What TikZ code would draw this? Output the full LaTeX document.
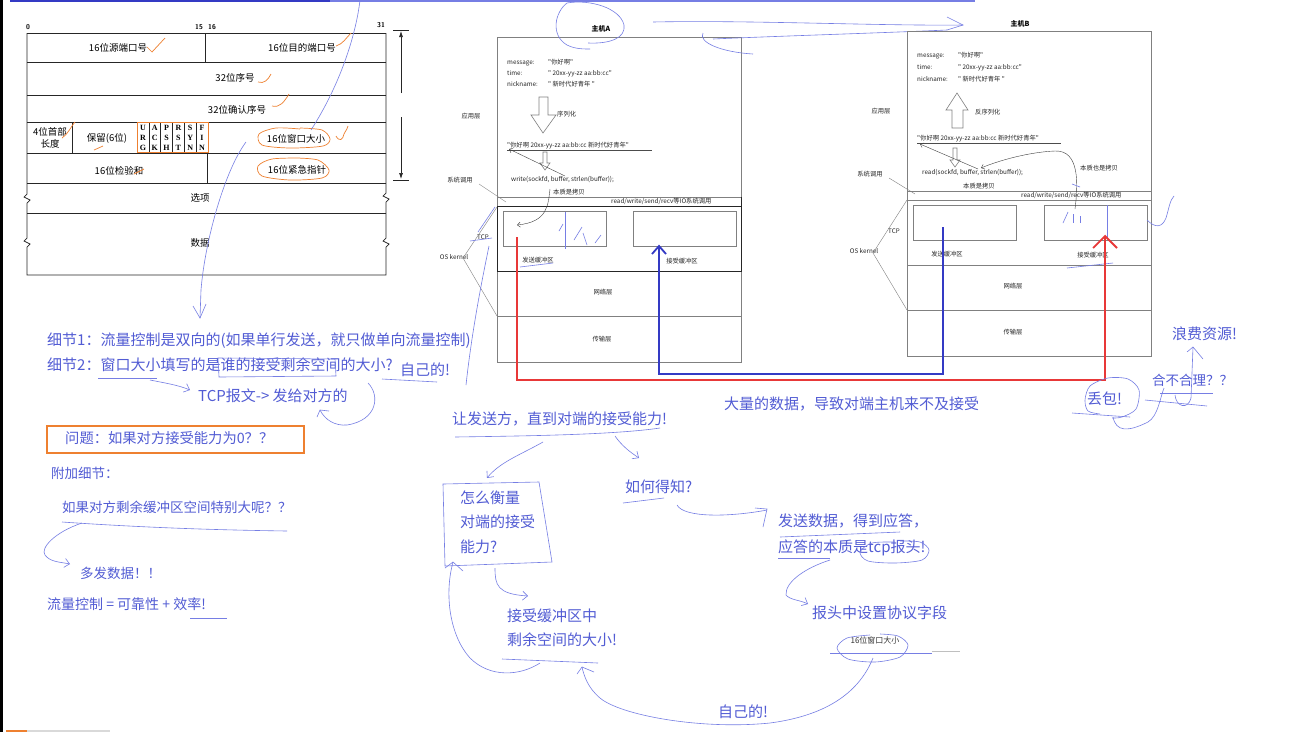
\documentclass[tikz,border=0pt]{standalone}
\usepackage{fontspec}
\setmainfont{Liberation Serif}
\newfontfamily\cjk{Noto Sans CJK SC}
\usetikzlibrary{arrows.meta,calc}
\definecolor{hand}{RGB}{82,92,212}
\definecolor{handl}{RGB}{118,126,228}
\definecolor{redl}{RGB}{232,56,56}
\definecolor{bluel}{RGB}{52,58,196}
\definecolor{orng}{RGB}{238,128,48}
\definecolor{gline}{RGB}{128,128,128}
\tikzset{
  hw/.style={font=\cjk\fontsize{15}{18}\selectfont, text=hand, inner sep=0pt, anchor=west, text height=12pt, text depth=2.5pt},
  hws/.style={font=\cjk\fontsize{13.5}{16}\selectfont, text=hand, inner sep=0pt, anchor=west, text height=11pt, text depth=2.2pt},
  hs/.style={draw=handl, line width=0.6pt},
  harrow/.style={hs, -{Straight Barb[length=5pt,width=9pt]}},
  sm/.style={font=\cjk\fontsize{6.3}{7.5}\selectfont, inner sep=0pt, text=black!85, text height=5pt, text depth=1.2pt},
  smw/.style={sm, anchor=west},
  hdr/.style={font=\cjk\fontsize{9.5}{12}\selectfont, inner sep=0pt, align=center},
  bitlab/.style={font=\sffamily\bfseries\fontsize{7}{8}\selectfont, inner sep=0pt},
  flag/.style={font=\bfseries\fontsize{8}{9}\selectfont, inner sep=0pt},
  hl/.style={draw=black!85, line width=0.7pt},
  gl/.style={draw=gline, line width=0.6pt},
  org/.style={draw=orng, line width=0.7pt},
  bufbox/.style={draw=gline, line width=0.6pt, inner sep=0pt, minimum width=103pt, minimum height=35pt, anchor=north west},
  thinarr/.style={draw=black!75, line width=0.4pt, -{Straight Barb[length=3pt,width=5pt]}},
  hollow/.style={draw=gline, line width=0.6pt, fill=white},
}
\begin{document}
\begin{tikzpicture}[x=1pt,y=-1pt]
\useasboundingbox (0,0) rectangle (1308,732);
\fill[white] (0,0) rectangle (1308,732);
\fill[black] (0,0) rectangle (2.5,732);
\draw[bluel, line width=2.5pt] (10,1.2) -- (330,1.2);
\draw[handl, line width=1.5pt] (330,1) -- (975,1);
\draw[orng, line width=1.5pt] (6,731) -- (27,731);
\draw[black!15, line width=1.5pt] (27,731) -- (110,731);

% ================= TCP header =================
\node[bitlab] (b0) at (28,27) {0};
\node[bitlab] (b15) at (199,27) {15};
\node[bitlab] (b16) at (212,27) {16};
\node[bitlab] (b31) at (381,25) {31};
\draw[hl] (27,33) -- (386,33);
\draw[hl] (27,33) -- (27,194) -- (24,197) -- (30,200) -- (27,203) -- (27,238) -- (24,241) -- (30,244) -- (27,247) -- (27,275) -- (386,275)
  -- (386,247) -- (389,244) -- (383,241) -- (386,238) -- (386,202) -- (389,199) -- (383,196) -- (386,193) -- (386,33);
\foreach \yy in {62,95,122,153,183,213} \draw[hl] (27,\yy) -- (386,\yy);
\draw[hl] (205,33) -- (205,62);
\draw[hl] (72,122) -- (72,153);
\draw[hl] (207,153) -- (207,183);
\node[hdr] (f1) at (118,48) {16位源端口号};
\node[hdr] (f2) at (302,48) {16位目的端口号};
\node[hdr] (f3) at (235,78) {32位序号};
\node[hdr] (f4) at (237,110) {32位确认序号};
\node[hdr] (f5) at (50,138) {4位首部\\长度};
\node[hdr] (f6) at (107,138) {保留(6位)};
\node[hdr] (f7) at (296,139) {16位窗口大小};
\node[hdr] (f8) at (119,171) {16位检验和};
\node[hdr] (f9) at (297,170) {16位紧急指针};
\node[hdr] (f10) at (200,198) {选项};
\node[hdr] (f11) at (200,243) {数据};
% flags
\foreach \i in {1,...,5} \draw[hl, line width=0.5pt] ({137+11.83*\i},122) -- ({137+11.83*\i},152);
\foreach \a/\b/\c [count=\k from 0] in {U/R/G,A/C/K,P/S/H,R/S/T,S/Y/N,F/I/N}{
  \node[flag] at ({142.9+11.83*\k},128) {\a};
  \node[flag] at ({142.9+11.83*\k},138) {\b};
  \node[flag] at ({142.9+11.83*\k},147.5) {\c};
}
\node[draw=orng, line width=1.3pt, inner sep=0pt, minimum width=71pt, minimum height=30pt, anchor=north west] (flags) at (137,122) {};
% dimension arrow
\draw[hl] (393,30) -- (409,30);
\draw[hl] (393,180) -- (409,180);
\draw[hl, -{Latex[length=6pt,width=4pt]}] (401,93) -- (401,31);
\draw[hl, -{Latex[length=6pt,width=4pt]}] (401,117) -- (401,179);
% orange marks
\draw[org] (147,47) -- (152,52) -- (165,38);
\draw[org] (336,46) .. controls (343,44) and (346,38) .. (351,33);
\draw[org] (258,82) .. controls (264,84) and (268,80) .. (271,74);
\draw[org] (272,106) .. controls (280,108) and (284,102) .. (289,94);
\draw[org] (62,138) .. controls (68,134) and (70,128) .. (75,122);
\draw[org] (94,150) -- (103,146);
\draw[org] (134,174) -- (144,169);
\draw[org] plot[smooth] coordinates {(300,129) (276,128) (259,134) (262,145) (290,148) (323,146) (330,139) (322,130) (300,128)};
\draw[org] (336,136) .. controls (339,142) and (343,140) .. (344,134) .. controls (346,130) and (348,128) .. (348,126);
\draw[org] plot[smooth] coordinates {(300,158) (272,159) (258,166) (262,176) (290,180) (322,178) (329,170) (318,160) (296,158)};
% blue hand line through header
\draw[hs] (360,0) .. controls (356,35) and (340,85) .. (311,130);
\coordinate (hdrArrow) at (200,318);
\draw[hs] (246,142) .. controls (225,170) and (205,240) .. (201,290) -- (hdrArrow);
\draw[hs] (193,306) -- (hdrArrow) -- (206,304);

% ================= Host A =================
\node[font=\cjk\bfseries\fontsize{7}{8}\selectfont, inner sep=0pt] (hA) at (601,29) {主机A};
\node[draw=gline, line width=0.6pt, inner sep=0pt, minimum width=244pt, minimum height=325pt, anchor=north west] (hostA) at (497,37) {};
\draw[gl] (497,197) -- (741,197);
\draw[draw=black!85, line width=0.8pt] (497,206) -- (741,206) -- (741,197);
\draw[draw=black!85, line width=0.8pt] (497,206) rectangle (741,271);
\draw[gl] (497,316) -- (741,316);
\node[bufbox] (sbA) at (503,211) {};
\node[bufbox] (rbA) at (633,211) {};
\node[sm] (sbAl) at (538,261) {发送缓冲区};
\node[sm] (rbAl) at (682,262) {接受缓冲区};
\node[sm] (netA) at (603,293) {网络层};
\node[sm] (trA) at (602,340) {传输层};
\node[smw] (mA1) at (507,63) {message:};
\node[smw] (mA2) at (507,74) {time:};
\node[smw] (mA3) at (507,85) {nickname:};
\node[smw] (vA1) at (548,63) {"你好啊"};
\node[smw] (vA2) at (548,74) {" 20xx-yy-zz aa:bb:cc"};
\node[smw] (vA3) at (548,85) {" 新时代好青年 "};
\draw[hollow] (539,97) -- (548,97) -- (548,115) -- (556,115) -- (543,133) -- (531,115) -- (539,115) -- cycle;
\node[smw] (serA) at (557,115) {序列化};
\node[smw] (strA) at (507,146) {"你好啊 20xx-yy-zz aa:bb:cc 新时代好青年"};
\draw[black!70, line width=0.4pt] (507,150) -- (652,150);
\draw[hollow] (543,152) -- (547,152) -- (547,163) -- (550,163) -- (545,170) -- (540,163) -- (543,163) -- cycle;
\node[smw] (wrA) at (511,180) {write(sockfd, buffer, strlen(buffer));};
\node[smw] (cpA) at (553,193) {本质是拷贝};
\node[smw] (ioA) at (611,202) {read/write/send/recv等IO系统调用};
\node[sm] (appA) at (471,117) {应用层};
\node[sm] (sysA) at (460,181) {系统调用};
\node[sm] (tcpA) at (483,238) {TCP};
\node[sm] (osA) at (454,258) {OS kernel};
\draw[gl, line width=0.4pt] (479,184) -- (506,202);
\draw[gl, line width=0.4pt] (497,207) -- (463,258) -- (497,316);
\draw[thinarr] (565,176) -- (509,149);
\draw[thinarr] (550,189) .. controls (548,205) and (548,222) .. (517,225);
% hand strokes host A
\draw[hs] (567,3) .. controls (555,12) and (550,35) .. (567,45) .. controls (575,49) and (583,49) .. (590,49);
\draw[hs] (567,3) .. controls (590,-1) and (620,8) .. (624,25) .. controls (626,38) and (610,44) .. (588,43);
\draw[hs] (653,22) .. controls (750,20) and (880,26) .. (963,25);
\draw[hs] (703,33) .. controls (698,42) and (720,52) .. (753,54);
\draw[hs] (713,39) .. controls (780,36) and (880,33) .. (947,30);
\draw[hs] (947,17) -- (963,25) -- (947,30);
\draw[hs] (565,212) -- (565,249);
\draw[hs] (559,231) -- (563,224);
\draw[hs] (574,240) -- (582,227);
\draw[hs] (583,233) -- (587,245);
\draw[hs] (595,243) -- (601,235);
\draw[hs] (520,267) -- (553,263);
\draw[hs] (495,207) -- (478,232);
\draw[hs] (470,241) -- (492,238);
\draw[hs] (489,246) .. controls (482,280) and (472,330) .. (466,385);

% ================= Host B =================
\node[font=\cjk\bfseries\fontsize{7}{8}\selectfont, inner sep=0pt] (hB) at (1020,24) {主机B};
\node[draw=gline, line width=0.6pt, inner sep=0pt, minimum width=244pt, minimum height=325pt, anchor=north west] (hostB) at (907,31) {};
\draw[gl] (907,191) -- (1151,191);
\draw[gl] (907,200) -- (1151,200);
\draw[gl] (907,265) -- (1151,265);
\draw[gl] (907,310) -- (1151,310);
\node[bufbox] (sbB) at (913,205) {};
\node[bufbox] (rbB) at (1044,205) {};
\node[sm] (sbBl) at (947,255) {发送缓冲区};
\node[sm] (rbBl) at (1093,256) {接受缓冲区};
\node[sm] (netB) at (1013,287) {网络层};
\node[sm] (trB) at (1013,333) {传输层};
\node[smw] (mB1) at (917,56) {message:};
\node[smw] (mB2) at (917,68) {time:};
\node[smw] (mB3) at (917,80) {nickname:};
\node[smw] (vB1) at (958,56) {"你好啊"};
\node[smw] (vB2) at (958,68) {" 20xx-yy-zz aa:bb:cc"};
\node[smw] (vB3) at (958,80) {" 新时代好青年 "};
\draw[hollow] (952,128) -- (963,128) -- (963,110) -- (968,110) -- (957,93) -- (946,110) -- (952,110) -- cycle;
\node[smw] (serB) at (975,113) {反序列化};
\node[smw] (strB) at (917,139) {"你好啊 20xx-yy-zz aa:bb:cc 新时代好青年"};
\draw[black!70, line width=0.4pt] (917,143) -- (1061,143);
\draw[hollow] (953,148) -- (957,148) -- (957,160) -- (960,160) -- (955,167) -- (950,160) -- (953,160) -- cycle;
\node[smw] (rdB) at (922,173) {read(sockfd, buffer, strlen(buffer));};
\node[smw] (cpB) at (963,187) {本质是拷贝};
\node[smw] (cpB2) at (1080,169) {本质也是拷贝};
\node[smw] (ioB) at (1021,196) {read/write/send/recv等IO系统调用};
\node[sm] (appB) at (881,112) {应用层};
\node[sm] (sysB) at (870,175) {系统调用};
\node[sm] (tcpB) at (894,232) {TCP};
\node[sm] (osB) at (864,252) {OS kernel};
\draw[gl, line width=0.4pt] (889,178) -- (915,194);
\draw[gl, line width=0.4pt] (907,200) -- (873,253) -- (907,310);
\draw[thinarr] (978,169) -- (920,144);
\draw[thinarr] (1075,209) .. controls (1078,185) and (1080,150) .. (1055,151) .. controls (1030,152) and (1000,160) .. (981,168);
% hand strokes host B
\draw[hs] (1107,205) -- (1107,238);
\draw[hs] (1063,223) -- (1068,212);
\draw[hs] (1073,214) -- (1073,223);
\draw[hs] (1080,216) -- (1080,223);
\draw[hs] (1072,184) -- (1080,187);
\draw[hs] (1147,220) .. controls (1155,228) and (1162,228) .. (1166,218) .. controls (1169,208) and (1170,200) .. (1174,196);
\draw[hs] (1067,268) -- (1113,263);

% ================= red / blue data paths =================
\coordinate (redS) at (517,237);
\coordinate (redE) at (1105,236);
\draw[redl, line width=1.8pt] (redS) -- (517,380) -- (1105,380) -- (redE);
\draw[redl, line width=1.8pt] (1093,248) -- (redE) -- (1117,248);
\coordinate (bluS) at (943,227);
\coordinate (bluE) at (659,246);
\draw[bluel, line width=1.8pt] (bluS) -- (943,374) -- (659,374) -- (bluE);
\draw[bluel, line width=1.8pt] (652,254) -- (bluE) -- (666,254);

% ================= left annotations =================
\node[hw] (d1) at (47,341) {细节1：流量控制是双向的(如果单行发送，就只做单向流量控制)};
\node[hw] (d2) at (47,366) {细节2：窗口大小填写的是谁的接受剩余空间的大小?};
\node[hw] (own1) at (400,371) {自己的!};
\node[hw] (tcpmsg) at (198,397) {TCP报文-> 发给对方的};
\node[draw=orng, line width=1.5pt, minimum width=257pt, minimum height=27pt, anchor=north west, inner sep=0pt] (qbox) at (46,425) {};
\node[hw, font=\cjk\fontsize{14.3}{17}\selectfont] (q) at (65,439) {问题：如果对方接受能力为0？？};
\node[hws] (extra) at (51,474) {附加细节：};
\node[hws] (big) at (62,508) {如果对方剩余缓冲区空间特别大呢？？};
\node[hws] (more) at (80,574) {多发数据！！};
\node[hws, font=\cjk\fontsize{14}{17}\selectfont] (eq) at (47,605) {流量控制 = 可靠性 + 效率!};
\draw[hs] (98,378) -- (157,378);
\draw[harrow] (150,380) .. controls (165,383) and (178,385) .. (190,390);
\draw[hs] (218,358) -- (335,359) -- (336,376) -- (219,377) -- cycle;
\draw[hs] (382,379) -- (437,382);
\draw[hs] (368,383) .. controls (380,395) and (378,420) .. (347,425) .. controls (335,426) and (325,420) .. (320,410);
\draw[hs] (317,417) -- (320,410) -- (329,411);
\draw[hs] (62,522) .. controls (150,528) and (220,530) .. (287,531);
\draw[harrow] (82,523) .. controls (55,532) and (40,548) .. (45,555) .. controls (50,562) and (60,562) .. (70,564);
\draw[hs] (190,618) -- (227,618);

% ================= right / bottom annotations =================
\node[hw] (lots) at (724,405) {大量的数据，导致对端主机来不及接受};
\node[hw] (loss) at (1087,400) {丢包!};
\node[hws] (ok) at (1152,381) {合不合理？？};
\node[hw] (waste) at (1172,335) {浪费资源!};
\draw[hs] plot[smooth] coordinates {(1112,418) (1122,417) (1136,409) (1139,390) (1128,379) (1108,378) (1090,386) (1085,400) (1088,411) (1100,414)};
\draw[hs] (1072,413) -- (1130,417);
\draw[hs] (1113,417) .. controls (1116,432) and (1128,432) .. (1148,422) .. controls (1158,416) and (1160,398) .. (1164,388);
\draw[hs] (1145,400) -- (1207,406);
\draw[hs] (1160,393) -- (1213,393);
\coordinate (wasteArr) at (1193,347);
\draw[hs] (1175,395) .. controls (1176,407) and (1188,410) .. (1191,398) -- (wasteArr);
\draw[hs] (1187,352) -- (wasteArr) -- (1203,359);

\node[hw] (tell) at (452,420) {让发送方，直到对端的接受能力!};
\draw[hs] (455,437) .. controls (520,436) and (613,435) .. (660,428);
\draw[harrow] (543,442) .. controls (520,455) and (500,462) .. (487,478);
\draw[harrow] (615,436) .. controls (622,446) and (630,452) .. (639,458);
\node[hw, text height=, text depth=, align=left, font=\cjk\fontsize{15}{24.5}\selectfont] (how) at (460,522) {怎么衡量\\对端的接受\\能力?};
\draw[hs] (443,484) -- (539,482) -- (552,562) -- (445,566) -- cycle;
\node[hw] (know) at (625,488) {如何得知?};
\draw[hs] (623,503) -- (664,498);
\draw[hs] (677,505) .. controls (684,518) and (730,517) .. (767,510);
\draw[hs] (755,508) -- (767,509) -- (763,527);
\node[hw] (ack1) at (778,522) {发送数据，得到应答，};
\node[hw] (ack2) at (778,548) {应答的本质是tcp报头!};
\draw[hs] (780,537) -- (900,532);
\draw[hs] (778,558) -- (830,558);
\draw[hs] plot[smooth] coordinates {(895,542) (872,543) (860,552) (868,561) (895,563) (922,560) (929,550) (920,542) (900,541)};
\draw[harrow] (830,560) .. controls (805,568) and (785,582) .. (786,595) .. controls (790,600) and (800,600) .. (808,604);
\node[hw] (field) at (812,614) {报头中设置协议字段};
\node[font=\cjk\fontsize{8}{9}\selectfont, inner sep=0pt, text=black!80] (win) at (875,640) {16位窗口大小};
\draw[hs] plot[smooth] coordinates {(870,635) (847,638) (837,648) (848,659) (875,662) (900,657) (908,645) (898,636) (880,634)};
\draw[hs] (830,653) -- (932,653);
\draw[black!25, line width=0.6pt] (932,651) -- (960,651);
\node[hw] (own2) at (718,713) {自己的!};
\coordinate (remArr) at (582,667);
\draw[hs] (873,658) .. controls (860,690) and (830,715) .. (770,723) .. controls (700,730) and (620,715) .. (600,698) .. controls (588,688) and (584,676) .. (remArr);
\draw[hs] (577,674) -- (remArr) -- (594,672);
\node[hw] (rem1) at (507,617) {接受缓冲区中};
\node[hw] (rem2) at (507,641) {剩余空间的大小!};
\draw[hs] (502,659) -- (598,663);
\draw[harrow] (495,568) .. controls (495,585) and (497,594) .. (528,596);
\coordinate (boxArr) at (453,562);
\draw[hs] (540,663) .. controls (520,676) and (490,678) .. (470,658) .. controls (450,636) and (444,595) .. (boxArr);
\draw[hs] (445,568) -- (boxArr) -- (463,571);
\end{tikzpicture}
\end{document}
